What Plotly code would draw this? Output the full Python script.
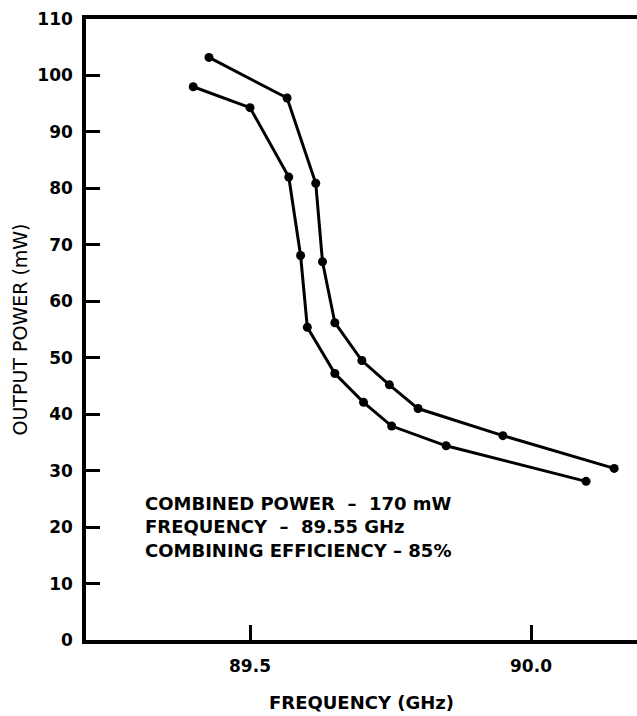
import plotly.graph_objects as go

# Data
freq_a = [89.427, 89.566, 89.617, 89.629, 89.651, 89.699, 89.748, 89.799, 89.950, 90.148]
power_a = [103.2, 96.0, 80.9, 67.0, 56.2, 49.5, 45.2, 41.0, 36.2, 30.4]
freq_b = [89.399, 89.500, 89.569, 89.590, 89.602, 89.651, 89.702, 89.752, 89.849, 90.098]
power_b = [98.0, 94.3, 82.0, 68.1, 55.4, 47.2, 42.1, 37.9, 34.4, 28.1]

y_ticks = [0, 10, 20, 30, 40, 50, 60, 70, 80, 90, 100, 110]
y_labels = [str(v) for v in y_ticks]
x_ticks = [89.5, 90.0]
x_labels = ["89.5", "90.0"]

note_lines = [
    "COMBINED POWER\u00a0\u00a0\u2013\u00a0\u00a0170 mW",
    "FREQUENCY\u00a0\u00a0\u2013\u00a0\u00a089.55 GHz",
    "COMBINING EFFICIENCY \u2013 85%",
]

fig = go.Figure()
for fx, py in [(freq_a, power_a), (freq_b, power_b)]:
    fig.add_trace(go.Scatter(
        x=fx, y=py, mode="lines+markers",
        line=dict(color="black", width=3),
        marker=dict(color="black", size=9),
        showlegend=False, hoverinfo="skip",
    ))

fig.add_annotation(
    x=89.31, y=20, xref="x", yref="y",
    text="<br>".join(note_lines), showarrow=False,
    xanchor="left", yanchor="middle", align="left",
    font=dict(family="DejaVu Sans", size=18, color="black", weight="bold"),
)

fig.update_layout(
    width=637, height=716,
    margin=dict(l=86, r=0, t=19, b=76),
    paper_bgcolor="white", plot_bgcolor="white",
    font=dict(family="DejaVu Sans", color="black"),
)
fig.update_xaxes(
    range=[89.2082, 90.1886], tickmode="array", tickvals=x_ticks, ticktext=x_labels,
    ticks="inside", ticklen=15, tickwidth=3, tickcolor="black",
    showline=True, linecolor="black", linewidth=3.5, mirror=True,
    showgrid=False, zeroline=False, automargin=False,
    tickfont=dict(family="DejaVu Sans", size=17, color="black", weight="bold"),
    ticklabelstandoff=8,
    title=dict(text="FREQUENCY (GHz)", standoff=22,
               font=dict(family="DejaVu Sans", size=18, color="black", weight="bold")),
)
fig.update_yaxes(
    range=[0, 110], tickmode="array", tickvals=y_ticks, ticktext=y_labels,
    ticks="inside", ticklen=14, tickwidth=3, tickcolor="black",
    showline=True, linecolor="black", linewidth=3.5, mirror=False,
    showgrid=False, zeroline=False, automargin=False,
    tickfont=dict(family="DejaVu Sans", size=17, color="black", weight="bold"),
    ticklabelstandoff=6,
    title=dict(text="OUTPUT POWER (mW)", standoff=6,
               font=dict(family="DejaVu Sans", size=19, color="black")),
)

fig.write_html(
    "out.html",
    config={"displayModeBar": False},
    post_script="document.body.style.margin='0';document.body.style.overflow='hidden';",
)
